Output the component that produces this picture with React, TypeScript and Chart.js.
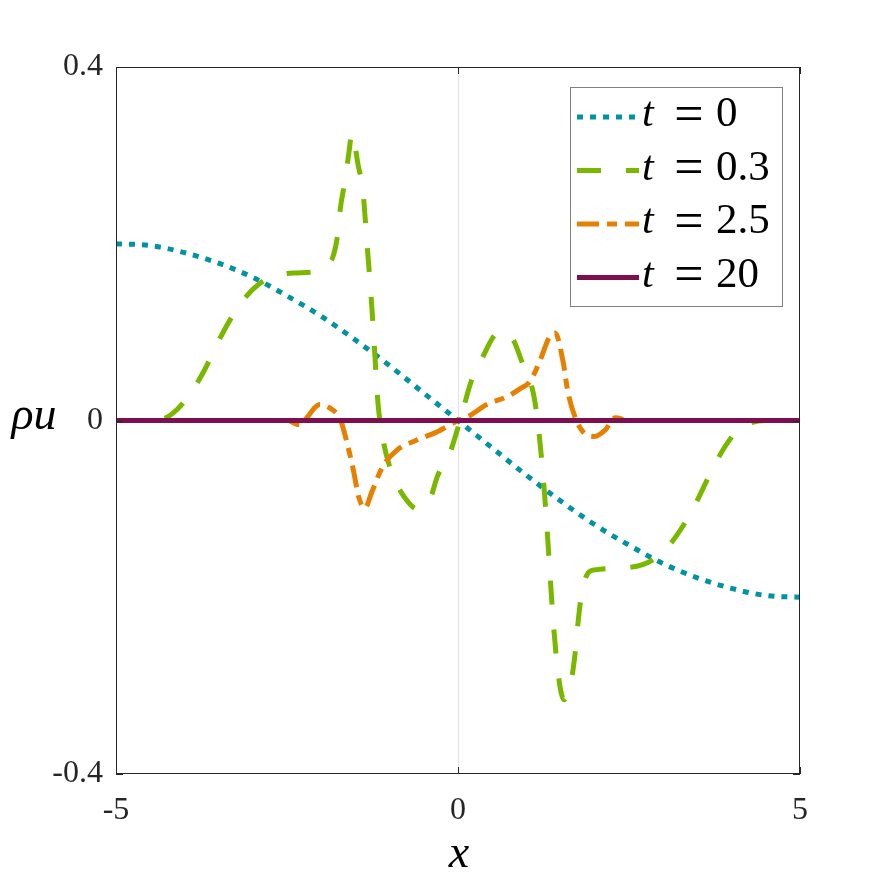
import { useEffect, useRef } from "react";
import { Chart, registerables } from "chart.js";

Chart.register(...registerables);

// t = 0
const T0_X = [-5, -4.5, -4, -3.5, -3, -2.5, -2, -1.5, -1, -0.5, 0, 0.5, 1, 1.5, 2, 2.5, 3, 3.5, 4, 4.5, 5];
const T0_Y = [0.2, 0.198, 0.19, 0.178, 0.162, 0.141, 0.118, 0.091, 0.062, 0.031, 0, -0.031, -0.062, -0.091, -0.118, -0.141, -0.162, -0.178, -0.19, -0.198, -0.2];

// t = 0.3
const T03_X = [-5, -4.5, -4.3, -4.1, -3.9, -3.7, -3.5, -3.3, -3.1, -2.9, -2.7, -2.4, -2.05, -1.9, -1.83, -1.76, -1.72, -1.66, -1.6, -1.55, -1.46, -1.39, -1.33, -1.27, -1.22, -1.17, -1.1, -1.0, -0.89, -0.73, -0.6, -0.41, -0.3, -0.12, 0.03, 0.2, 0.35, 0.54, 0.66, 0.81, 0.95, 1.08, 1.15, 1.23, 1.3, 1.35, 1.4, 1.47, 1.55, 1.6, 1.67, 1.72, 1.76, 1.8, 1.87, 2.0, 2.4, 2.7, 2.9, 3.1, 3.3, 3.5, 3.7, 3.9, 4.1, 4.3, 4.5, 5];
const T03_Y = [0, 0, 0.002, 0.013, 0.032, 0.058, 0.09, 0.118, 0.14, 0.155, 0.163, 0.167, 0.169, 0.178, 0.185, 0.21, 0.24, 0.268, 0.3, 0.325, 0.289, 0.26, 0.2, 0.14, 0.08, 0.02, -0.02, -0.052, -0.073, -0.092, -0.1, -0.089, -0.063, -0.037, 0, 0.046, 0.07, 0.097, 0.101, 0.091, 0.063, 0.038, 0.008, -0.05, -0.12, -0.18, -0.235, -0.29, -0.316, -0.31, -0.288, -0.258, -0.225, -0.2, -0.177, -0.169, -0.167, -0.163, -0.155, -0.14, -0.118, -0.09, -0.058, -0.03, -0.01, -0.002, 0, 0];

// t = 2.5
const T25_X = [-5, -2.5, -2.31, -2.2, -2.1, -2.02, -1.87, -1.72, -1.62, -1.53, -1.45, -1.36, -1.26, -1.1, -0.9, -0.6, -0.31, 0, 0.18, 0.42, 0.72, 0.91, 1.05, 1.2, 1.34, 1.42, 1.54, 1.6, 1.71, 1.83, 2.0, 2.15, 2.3, 2.5, 5];
const T25_Y = [0, 0, -0.005, 0.004, 0.014, 0.018, 0.014, 0.001, -0.026, -0.056, -0.087, -0.099, -0.081, -0.052, -0.034, -0.022, -0.013, 0, 0.006, 0.018, 0.027, 0.036, 0.044, 0.068, 0.095, 0.099, 0.065, 0.035, 0.004, -0.013, -0.018, -0.011, 0.003, 0, 0];

// t = 20
const T20_X = [-5, 5];
const T20_Y = [0, 0];

const LEGEND_VALUES = ["0", "0.3", "2.5", "20"];
const X_TICKS = [-5, 0, 5];
const X_TICK_LABELS = ["-5", "0", "5"];
const Y_TICKS = [-0.4, 0, 0.4];
const Y_TICK_LABELS = ["-0.4", "0", "0.4"];
const X_TITLE = "x";
const Y_TITLE = "ρu";

const COLORS = ["#0093A0", "#7AB800", "#E68000", "#7E0F4F"];
const DASHES = [[6, 7], [24, 25], [22, 8, 10, 8], []];
const SERIF = "'Liberation Serif', 'DejaVu Serif', serif";
const AXIS_COLOR = "#262626";

function pts(xs: number[], ys: number[]) {
  return xs.map((x, i) => ({ x, y: ys[i] }));
}

export default function App() {
  const ref = useRef<HTMLCanvasElement | null>(null);

  useEffect(() => {
    if (!ref.current) return;
    const series = [
      pts(T0_X, T0_Y),
      pts(T03_X, T03_Y),
      pts(T25_X, T25_Y),
      pts(T20_X, T20_Y),
    ];

    const decor = {
      id: "decor",
      afterDatasetsDraw(chart: any) {
        const { ctx, chartArea: a, scales } = chart;
        const xs = scales.x;
        const ys = scales.y;
        ctx.save();
        // box
        ctx.strokeStyle = AXIS_COLOR;
        ctx.lineWidth = 1;
        ctx.setLineDash([]);
        ctx.strokeRect(Math.round(a.left) + 0.5, Math.round(a.top) + 0.5, Math.round(a.right - a.left) - 1, Math.round(a.bottom - a.top) - 1);
        // inward ticks
        const tl = 7;
        ctx.beginPath();
        X_TICKS.forEach((v) => {
          const px = Math.round(xs.getPixelForValue(v)) + 0.5;
          ctx.moveTo(px, a.bottom);
          ctx.lineTo(px, a.bottom - tl);
          ctx.moveTo(px, a.top);
          ctx.lineTo(px, a.top + tl);
        });
        Y_TICKS.forEach((v) => {
          const py = Math.round(ys.getPixelForValue(v)) + 0.5;
          ctx.moveTo(a.left, py);
          ctx.lineTo(a.left + tl, py);
          ctx.moveTo(a.right, py);
          ctx.lineTo(a.right - tl, py);
        });
        ctx.stroke();

        // axis titles
        ctx.fillStyle = "#000";
        ctx.textAlign = "center";
        ctx.textBaseline = "middle";
        ctx.font = `italic 46px ${SERIF}`;
        ctx.fillText(X_TITLE, (a.left + a.right) / 2 + 1, 855);
        ctx.font = `italic 46px ${SERIF}`;
        ctx.fillText(Y_TITLE, 34, ys.getPixelForValue(0) - 4);

        // legend
        const bx = 570, by = 87, bw = 212, bh = 219;
        ctx.fillStyle = "#fff";
        ctx.fillRect(bx, by, bw, bh);
        ctx.strokeStyle = "#7f7f7f";
        ctx.lineWidth = 1;
        ctx.strokeRect(bx + 0.5, by + 0.5, bw, bh);
        LEGEND_VALUES.forEach((val, i) => {
          const ry = 117 + i * 53.5;
          ctx.save();
          ctx.strokeStyle = COLORS[i];
          ctx.lineWidth = 5;
          ctx.lineCap = "butt";
          ctx.setLineDash(DASHES[i]);
          ctx.beginPath();
          ctx.moveTo(577, ry);
          ctx.lineTo(639, ry);
          ctx.stroke();
          ctx.restore();
          ctx.fillStyle = "#000";
          ctx.textBaseline = "middle";
          ctx.textAlign = "left";
          ctx.font = `italic 42px ${SERIF}`;
          ctx.fillText("t", 642, ry - 2);
          ctx.font = `52px ${SERIF}`;
          ctx.textAlign = "center";
          ctx.fillText("=", 689, ry);
          ctx.font = `43px ${SERIF}`;
          ctx.textAlign = "left";
          ctx.fillText(val, 716, ry - 2);
        });
        ctx.restore();
      },
    };

    const chart = new Chart(ref.current, {
      type: "line",
      data: {
        datasets: series.map((d, i) => ({
          label: `t = ${LEGEND_VALUES[i]}`,
          data: d,
          borderColor: COLORS[i],
          backgroundColor: COLORS[i],
          borderWidth: 5,
          borderDash: DASHES[i],
          borderCapStyle: "butt",
          borderJoinStyle: "round",
          pointRadius: 0,
          fill: false,
          cubicInterpolationMode: "monotone",
          order: 4 - i,
        })),
      },
      options: {
        responsive: false,
        animation: false,
        layout: { padding: { left: 0, right: 86, top: 67, bottom: 0 } },
        plugins: { legend: { display: false }, tooltip: { enabled: false } },
        scales: {
          x: {
            type: "linear",
            min: -5,
            max: 5,
            afterBuildTicks: (s: any) => {
              s.ticks = X_TICKS.map((v) => ({ value: v }));
            },
            afterFit: (s: any) => {
              s.height = 112;
            },
            ticks: {
              autoSkip: false,
              maxRotation: 0,
              padding: 17,
              color: AXIS_COLOR,
              font: { family: SERIF, size: 32 },
              callback: (v: any) => X_TICK_LABELS[X_TICKS.indexOf(Number(v))] ?? "",
            },
            grid: {
              drawTicks: false,
              lineWidth: 1,
              color: (c: any) => (c.tick && c.tick.value === 0 ? "#e3e3e3" : "rgba(0,0,0,0)"),
            },
            border: { display: false },
          },
          y: {
            type: "linear",
            min: -0.4,
            max: 0.4,
            afterBuildTicks: (s: any) => {
              s.ticks = Y_TICKS.map((v) => ({ value: v }));
            },
            afterFit: (s: any) => {
              s.width = 116;
            },
            ticks: {
              autoSkip: false,
              padding: 13,
              color: AXIS_COLOR,
              font: { family: SERIF, size: 32 },
              callback: (v: any) => {
                const idx = Y_TICKS.findIndex((t) => Math.abs(t - Number(v)) < 1e-9);
                return idx >= 0 ? Y_TICK_LABELS[idx] : "";
              },
            },
            grid: {
              drawTicks: false,
              lineWidth: 1,
              color: (c: any) => (c.tick && c.tick.value === 0 ? "#e3e3e3" : "rgba(0,0,0,0)"),
            },
            border: { display: false },
          },
        },
      } as any,
      plugins: [decor],
    } as any);

    return () => chart.destroy();
  }, []);

  return (
    <div style={{ position: "fixed", left: 0, top: 0, width: 886, height: 886, background: "#fff" }}>
      <canvas ref={ref} width={886} height={886} />
    </div>
  );
}
